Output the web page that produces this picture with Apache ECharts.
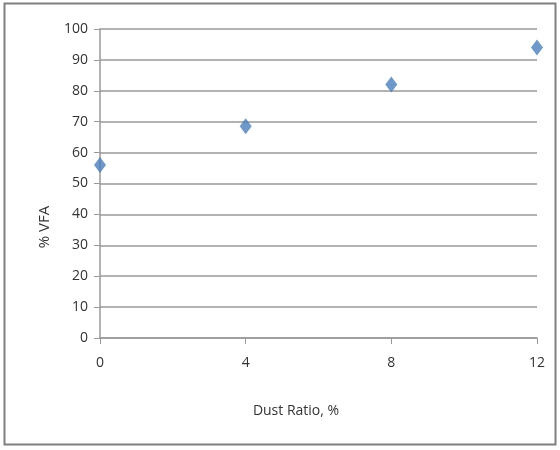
<!DOCTYPE html>
<html><head><meta charset="utf-8">
<script src="https://cdn.jsdelivr.net/npm/echarts@6/dist/echarts.min.js"></script>
<style>html,body{margin:0;padding:0;background:#fff}#c{width:560px;height:450px}</style>
</head><body><div id="c"></div>
<script>
const dustRatio = [0, 4, 8, 12];
const vfa = [56, 68.5, 82, 94];
const xTicks = [0, 4, 8, 12];
const xTitle = 'Dust Ratio, %';
const yTitle = '% VFA';

const chart = echarts.init(document.getElementById('c'));
chart.setOption({
  animation: false,
  graphic: [
    {type:'rect', shape:{x:4.5,y:3.5,width:551,height:441}, style:{fill:'none', stroke:'#7f7f7f', lineWidth:2}, silent:true},
    {type:'text', x:296, y:411, style:{text:xTitle, fontFamily:'Open Sans', fontSize:14, fill:'#333', textAlign:'center', textVerticalAlign:'middle'}},
    {type:'text', x:45, y:227, rotation:Math.PI/2, style:{text:yTitle, fontFamily:'Open Sans', fontSize:15, fill:'#333', textAlign:'center', textVerticalAlign:'middle'}}
  ],
  grid: {left:100, right:23, top:29, bottom:112},
  xAxis: {
    type:'value', min:0, max:12, interval:4,
    axisLine:{show:true, onZero:false, lineStyle:{color:'#999', width:1.5}},
    axisTick:{show:true, length:6, lineStyle:{color:'#999'}},
    axisLabel:{fontFamily:'Open Sans', fontSize:14, color:'#333', margin:18},
    splitLine:{show:false}
  },
  yAxis: {
    type:'value', min:0, max:100, interval:10,
    axisLine:{show:true, lineStyle:{color:'#999', width:1.5}},
    axisTick:{show:true, length:6, lineStyle:{color:'#999'}},
    axisLabel:{fontFamily:'Open Sans', fontSize:14, color:'#333', margin:12},
    splitLine:{show:true, lineStyle:{color:'#999', width:1.5}}
  },
  series: [{
    type:'scatter', symbol:'diamond', symbolSize:[12,16],
    itemStyle:{color:'#4A7EBB'},
    data: dustRatio.map((x,i)=>[x, vfa[i]])
  }]
});
</script></body></html>
